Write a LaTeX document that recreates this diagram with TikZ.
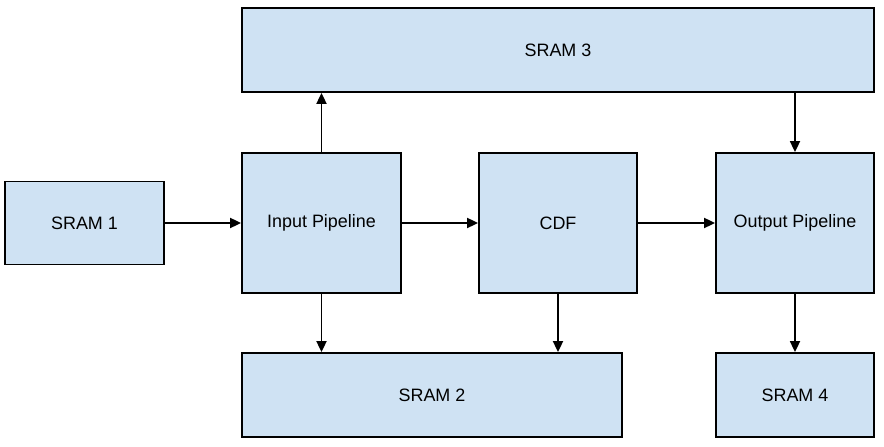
\documentclass[tikz,border=0pt]{standalone}
\usepackage{fontspec}
\setmainfont{Liberation Sans}
\usetikzlibrary{arrows.meta}
\definecolor{boxfill}{HTML}{CFE2F3}
\tikzset{
  blk/.style={draw=black, fill=boxfill, line width=1.8bp, inner sep=0pt,
    minimum width=#1, font=\fontsize{18}{22}\selectfont, text=black},
  blk/.default=159bp,
  conn/.style={line width=1.8bp, -{Triangle[length=11bp,width=10bp]}}
}
\begin{document}
\begin{tikzpicture}[x=1bp,y=-1bp]
\useasboundingbox (0,0) rectangle (884,447);
\node[blk=159bp, minimum height=83bp] (s1) at (84.5,223) {SRAM 1};
\node[blk=159bp, minimum height=140bp] (ip) at (321.5,223) {Input Pipeline};
\node[blk=158bp, minimum height=140bp] (cdf) at (558,223) {CDF};
\node[blk=158bp, minimum height=140bp] (op) at (795,223) {Output Pipeline};
\node[blk=632bp, minimum height=84bp] (s3) at (558,50) {SRAM 3};
\node[blk=380bp, minimum height=84bp] (s2) at (432,395) {SRAM 2};
\node[blk=158bp, minimum height=84bp] (s4) at (795,395) {SRAM 4};
\draw[conn] (s1.east) -- (ip.west);
\draw[conn] (ip.east) -- (cdf.west);
\draw[conn] (cdf.east) -- (op.west);
\draw[conn] (ip.north) -- (ip.north |- s3.south);
\draw[conn] (s3.south -| op.north) -- (op.north);
\draw[conn] (ip.south) -- (ip.south |- s2.north);
\draw[conn] (cdf.south) -- (cdf.south |- s2.north);
\draw[conn] (op.south) -- (s4.north);
\end{tikzpicture}
\end{document}
